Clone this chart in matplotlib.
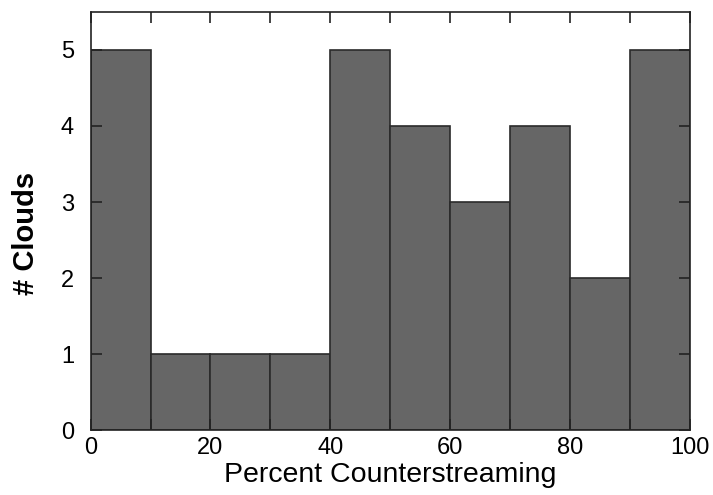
import matplotlib
matplotlib.use("Agg")
import matplotlib.pyplot as plt
import numpy as np

plt.rcParams['font.family'] = ['Liberation Sans', 'DejaVu Sans']

# Histogram of counterstreaming percentage per cloud
bin_edges = [0, 10, 20, 30, 40, 50, 60, 70, 80, 90, 100]
counts = [5, 1, 1, 1, 5, 4, 3, 4, 2, 5]
x_ticks_major = [0, 20, 40, 60, 80, 100]
y_ticks = [0, 1, 2, 3, 4, 5]

fig = plt.figure(figsize=(7.13, 4.95), dpi=100)
ax = fig.add_axes([0.127, 0.131, 0.841, 0.845])

lefts = np.array(bin_edges[:-1])
widths = np.diff(bin_edges)
ax.bar(lefts, counts, width=widths, align='edge', color='#666666',
       edgecolor='#2a2a2a', linewidth=1.2)

ax.set_xlim(0, 100)
ax.set_ylim(0, 5.5)
ax.set_xticks(x_ticks_major)
ax.set_xticks(bin_edges, minor=True)
ax.set_yticks(y_ticks)
ax.tick_params(axis='both', which='both', direction='in', top=True, right=True,
               labelsize=17, width=1.2, color='#222222', length=8)
ax.tick_params(axis='x', which='major', pad=5)
ax.tick_params(axis='y', which='major', pad=12)
for s in ax.spines.values():
    s.set_linewidth(1.2)
    s.set_color('#222222')

ax.set_xlabel('Percent Counterstreaming', fontsize=20.5, labelpad=2)
ax.set_ylabel('# Clouds', fontsize=21, fontweight='bold', labelpad=16)
ax.yaxis.set_label_coords(-0.085, 0.47)

fig.savefig('out.png', dpi=100)
